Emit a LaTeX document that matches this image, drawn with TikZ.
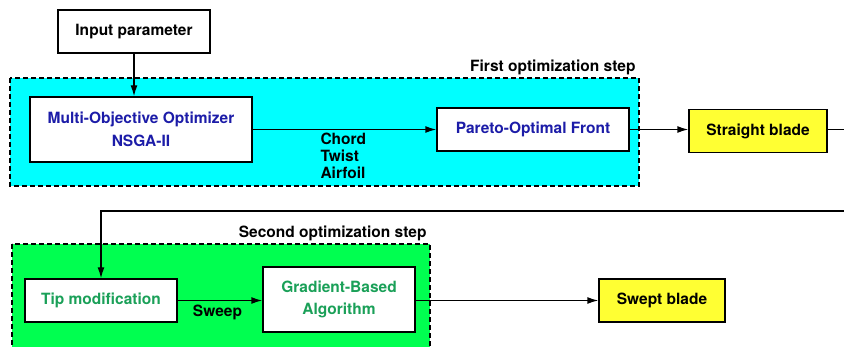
\documentclass[tikz,border=0pt]{standalone}
\usepackage{fontspec}
\setmainfont{TeX Gyre Heros}
\usetikzlibrary{arrows.meta}
\definecolor{stepcyan}{RGB}{0,255,255}
\definecolor{stepgreen}{RGB}{0,255,80}
\definecolor{bladeyellow}{RGB}{255,255,51}
\definecolor{optblue}{RGB}{28,28,168}
\definecolor{gradgreen}{RGB}{26,160,88}
\tikzset{
  every node/.style={font=\fontsize{15.5}{17}\selectfont\bfseries},
  box/.style={draw=black, line width=1.4pt, fill=white, inner sep=0pt, align=center},
  twoline/.style={font=\fontsize{15.5}{22.5}\selectfont\bfseries},
  blade/.style={box, fill=bladeyellow},
  group/.style={draw=black, line width=1.3pt, dash pattern=on 5pt off 3pt},
  arr/.style={draw=black, line width=1.4pt, -{Latex[length=11pt,width=7pt]}},
}
\begin{document}
\begin{tikzpicture}[x=1pt,y=-1pt]
\useasboundingbox (0,0) rectangle (844,347);

% optimization step frames (the lower one runs past the bottom edge)
\path[group, fill=stepcyan] (10,78) rectangle (639,186);
\path[group, fill=stepgreen] (12,244) rectangle (430,370);
\node[anchor=base east] (firstlbl) at (639,72) {First optimization step};
\node[anchor=base east] (secondlbl) at (430,238) {Second optimization step};

% first step
\node[box, minimum width=152pt, minimum height=43pt] (input) at (134,31.5) {Input parameter};
\node[box, twoline, minimum width=222pt, minimum height=65pt, text=optblue] (moo) at (141,129.5)
  {Multi-Objective Optimizer\\NSGA-II};
\node[box, minimum width=192pt, minimum height=43pt, text=optblue] (pareto) at (533,129.5)
  {Pareto-Optimal Front};
\node[blade, minimum width=138pt, minimum height=43pt] (straight) at (758,131) {Straight blade};

\node[anchor=base west] (chord) at (317,145) {Chord};
\node[anchor=base west] (twist) at (317,162) {Twist};
\node[anchor=base west] (airfoil) at (317,179) {Airfoil};

% second step
\node[box, minimum width=152pt, minimum height=43pt, text=gradgreen] (tip) at (101,300.5) {Tip modification};
\node[box, twoline, minimum width=152pt, minimum height=65pt, text=gradgreen] (grad) at (339,299.5)
  {Gradient-Based\\Algorithm};
\node[blade, minimum width=126pt, minimum height=43pt] (swept) at (662,300.5) {Swept blade};
\node (sweep) at (217.5,312) {Sweep};

% connectors
\coordinate (back) at (880,211);
\draw[arr] (input.south) -- (input.south |- moo.north);
\draw[arr] (moo.east |- pareto.west) -- (pareto.west);
\draw[arr] (pareto.east) -- (pareto.east -| straight.west);
\draw[arr] (straight.east |- pareto.east) -| (back) -| (tip.north);
\draw[arr] (tip.east) -- (tip.east -| grad.west);
\draw[arr] (grad.east |- swept.west) -- (swept.west);
\end{tikzpicture}
\end{document}
